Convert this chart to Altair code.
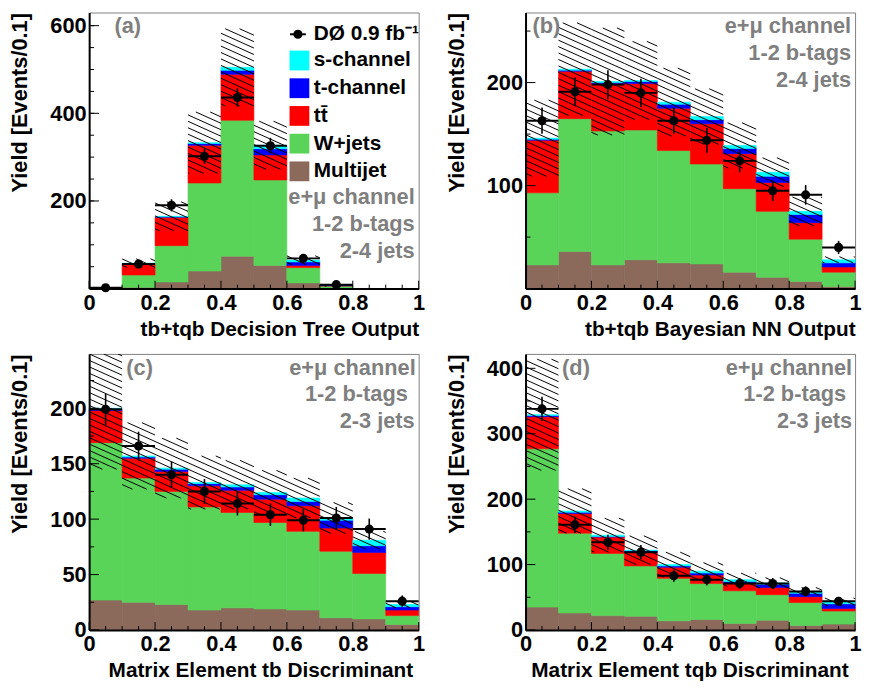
import math
import altair as alt
import pandas as pd

FONT = "Liberation Sans"
W, H = 333, 279

# ---------------- data ----------------
bin_edges = [0.0, 0.1, 0.2, 0.3, 0.4, 0.5, 0.6, 0.7, 0.8, 0.9, 1.0]
stack_order = ["Multijet", "W+jets", "tt\u0304", "t-channel", "s-channel"]
legend_order = ["s-channel", "t-channel", "tt\u0304", "W+jets", "Multijet"]
legend_colors = ["#00ffff", "#0000ff", "#ff0000", "#59d459", "#8b6a5b"]

# (a) Decision Tree
a_multijet = [0.5, 3, 15, 40, 74, 53, 13, 1, 0, 0]
a_wjets = [1, 28, 83, 201, 310, 195, 35, 5, 0, 0]
a_ttbar = [0.5, 25, 65, 86, 105, 57, 5, 0.5, 0, 0]
a_tchan = [0, 1, 1, 4, 9, 14, 8, 0.5, 0, 0]
a_schan = [0, 1, 1, 2, 7, 8, 4, 0, 0, 0]
a_data = [2, 56, 190, 302, 436, 326, 69, 9, 0, 0]
a_syst = [0.5, 10, 33, 70, 88, 55, 10, 2, 0, 0]

# (b) Bayesian NN
b_multijet = [23, 36, 23, 28, 25, 24, 16, 11, 7, 2]
b_wjets = [70, 129, 130, 126, 109, 97, 81, 64, 41, 14]
b_ttbar = [51, 46, 46, 45, 41, 39, 34, 28, 16, 5]
b_tchan = [1, 1, 1, 2, 4, 4, 5, 6, 8, 4]
b_schan = [1, 1, 1, 1, 2, 3, 3, 4, 3, 3]
b_data = [163, 191, 198, 190, 163, 144, 124, 95, 91, 40]
b_syst = [37, 45, 52, 38, 33, 27, 22, 14, 14, 3]

# (c) Matrix Element tb
c_multijet = [27, 25, 23, 18, 20, 19, 18, 11, 10, 5]
c_wjets = [142, 112, 102, 93, 86, 78, 71, 60, 41, 8]
c_ttbar = [29, 18, 18, 19, 20, 21, 23, 21, 19, 5]
c_tchan = [1, 1, 2, 2, 3, 4, 4, 7, 6, 3]
c_schan = [1, 1, 1, 1, 2, 2, 3, 2, 5, 2]
c_data = [199, 166, 140, 125, 114, 104, 99, 101, 91, 26]
c_syst = [55, 30, 27, 24, 22, 20, 18, 14, 8, 3]

# (d) Matrix Element tqb
d_multijet = [35, 26, 22, 21, 14, 16, 10, 15, 7, 9]
d_wjets = [242, 122, 95, 77, 65, 55, 50, 39, 35, 20]
d_ttbar = [49, 30, 25, 21, 17, 13, 11, 11, 9, 4]
d_tchan = [2, 2, 1, 2, 2, 3, 3, 5, 5, 7]
d_schan = [1, 2, 2, 1, 2, 3, 3, 2, 3, 3]
d_data = [338, 161, 134, 119, 83, 77, 71, 71, 59, 44]
d_syst = [85, 34, 26, 22, 19, 13, 10, 8, 6, 6]

x_major = [0, 0.2, 0.4, 0.6, 0.8, 1.0]
x_minor = [round(0.05 * i, 2) for i in range(1, 20) if i % 4 != 0]

GRAY = "#7f7f7f"


def text_layer(txt, px, py, align="left", color="black", size=22):
    return alt.Chart(pd.DataFrame({"t": [txt]})).mark_text(
        align=align, baseline="middle", font=FONT, fontSize=size,
        fontWeight="bold", color=color
    ).encode(text="t:N", x=alt.value(px), y=alt.value(py))


def hatch_df(total, err, ymax, slope=0.45, gap=6.5):
    rows = []
    for i in range(10):
        hi = min(total[i] + err[i], ymax)
        lo = max(total[i] - err[i], 0)
        if hi - lo <= 0:
            continue
        xa, xb = i * W / 10, (i + 1) * W / 10
        ya, yb = H * (1 - hi / ymax), H * (1 - lo / ymax)
        k0 = math.ceil((ya - slope * xb) / gap)
        k1 = math.floor((yb - slope * xa) / gap)
        for k in range(k0, k1 + 1):
            c = k * gap
            xs = max(xa, (ya - c) / slope)
            xe = min(xb, (yb - c) / slope)
            if xe - xs < 0.5:
                continue
            rows.append({
                "hx0": xs / W, "hx1": xe / W,
                "hy0": ymax * (1 - (c + slope * xs) / H),
                "hy1": ymax * (1 - (c + slope * xe) / H),
            })
    return pd.DataFrame(rows)


def panel(comps, data, syst, ymax, ylabels, yminor, xtitle, xtitle_x,
          tag, tag_x, info, info_x, info_y, legend=False):
    xs = alt.Scale(domain=[0, 1], nice=False, zero=False)
    ys = alt.Scale(domain=[0, ymax], nice=False, zero=False)

    rows = []
    totals = [0.0] * 10
    for name, vals in zip(stack_order, comps):
        for i in range(10):
            lo = totals[i]
            hi = lo + vals[i]
            totals[i] = hi
            if vals[i] > 0:
                rows.append({"x0": bin_edges[i], "x1": bin_edges[i + 1],
                             "y0": lo, "y1": hi, "comp": name})
    stack = pd.DataFrame(rows)

    xaxis = alt.Axis(
        values=x_major, format="~g", labelFlush=False, labelOverlap=False,
        ticks=False, grid=False, domainColor="black", domainWidth=2, zindex=1,
        labelFont=FONT, labelFontSize=22, labelFontWeight="bold",
        labelColor="black", labelPadding=4,
        title=xtitle, titleFont=FONT, titleFontSize=21, titleFontWeight="bold",
        titleColor="black", titleAlign="right", titleAnchor="end",
        titleX=xtitle_x, titleY=47, titleBaseline="alphabetic")
    yaxis = alt.Axis(
        values=ylabels, format="d", labelOverlap=False, ticks=False,
        grid=False, domainColor="black", domainWidth=2, zindex=1,
        labelFont=FONT, labelFontSize=22, labelFontWeight="bold",
        labelColor="black", labelPadding=3,
        title="Yield [Events/0.1]", titleFont=FONT, titleFontSize=22,
        titleFontWeight="bold", titleColor="black", titleX=-70, titleY=0,
        titleAngle=270, titleAlign="right", titleBaseline="middle")

    def X(f):
        return alt.X(f, scale=xs, axis=xaxis)

    def Y(f):
        return alt.Y(f, scale=ys, axis=yaxis)

    cscale = alt.Scale(domain=legend_order, range=legend_colors)
    if legend:
        leg = alt.Legend(orient="none", legendX=202, legendY=38, title=None,
                         symbolType="square", symbolSize=400,
                         symbolStrokeWidth=0, labelFont=FONT,
                         labelFontSize=21, labelFontWeight="bold",
                         labelColor="black", rowPadding=6, padding=0,
                         labelOffset=4, symbolOpacity=1)
    else:
        leg = None

    bars = alt.Chart(stack).mark_rect(strokeWidth=0.6).encode(
        x=X("x0:Q"), x2="x1:Q", y=Y("y0:Q"), y2="y1:Q",
        color=alt.Color("comp:N", scale=cscale, legend=leg),
        stroke=alt.Stroke("comp:N", scale=cscale, legend=None),
    )

    hd = hatch_df(totals, syst, ymax)
    hatch = alt.Chart(hd).mark_rule(color="black", strokeWidth=1,
                                    clip=True).encode(
        x=X("hx0:Q"), x2="hx1:Q", y=Y("hy0:Q"), y2="hy1:Q")

    # inner ticks (ROOT style)
    ymaj = alt.Chart(pd.DataFrame({"v": ylabels})).mark_rule(
        color="black", strokeWidth=1).encode(
        y=Y("v:Q"), x=alt.value(0), x2=alt.value(10))
    ymin = alt.Chart(pd.DataFrame({"v": yminor})).mark_rule(
        color="black", strokeWidth=1).encode(
        y=Y("v:Q"), x=alt.value(0), x2=alt.value(5))
    xmaj = alt.Chart(pd.DataFrame({"v": x_major})).mark_rule(
        color="black", strokeWidth=1).encode(
        x=X("v:Q"), y=alt.value(H), y2=alt.value(H - 8))
    xmin = alt.Chart(pd.DataFrame({"v": x_minor})).mark_rule(
        color="black", strokeWidth=1).encode(
        x=X("v:Q"), y=alt.value(H), y2=alt.value(H - 4))

    dd = pd.DataFrame({
        "x0": bin_edges[:-1], "x1": bin_edges[1:],
        "xc": [(bin_edges[i] + bin_edges[i + 1]) / 2 for i in range(10)],
        "n": data,
    })
    dd = dd[dd["n"] > 0].copy()
    dd["lo"] = dd["n"] - dd["n"] ** 0.5
    dd["hi"] = dd["n"] + dd["n"] ** 0.5
    vbar = alt.Chart(dd).mark_rule(color="black", strokeWidth=1.6).encode(
        x=X("xc:Q"), y=Y("lo:Q"), y2="hi:Q")
    hbar = alt.Chart(dd).mark_rule(color="black", strokeWidth=2).encode(
        x=X("x0:Q"), x2="x1:Q", y=Y("n:Q"))
    pts = alt.Chart(dd).mark_circle(color="black", opacity=1, size=85).encode(
        x=X("xc:Q"), y=Y("n:Q"))

    layers = [bars, hatch, ymaj, ymin, xmaj, xmin, vbar, hbar, pts,
              text_layer(tag, tag_x, 14, align="center", color=GRAY)]
    for t, px, py in zip(info, info_x, info_y):
        layers.append(text_layer(t, px, py, align="right", color=GRAY))

    if legend:
        leg_df = pd.DataFrame({"t": ["D\u00d8 0.9 fb\u207b\u00b9"]})
        layers.append(alt.Chart(leg_df).mark_rule(
            color="black", strokeWidth=2).encode(
            x=alt.value(203), x2=alt.value(219), y=alt.value(22)))
        layers.append(alt.Chart(leg_df).mark_circle(
            color="black", opacity=1, size=85).encode(
            x=alt.value(211), y=alt.value(22)))
        layers.append(text_layer("D\u00d8 0.9 fb\u207b\u00b9", 227, 22,
                                 size=21))

    return alt.layer(*layers).properties(width=W, height=H)


pa = panel([a_multijet, a_wjets, a_ttbar, a_tchan, a_schan], a_data, a_syst,
           630, [200, 400, 600], [50 * i for i in range(1, 13)],
           "tb+tqb Decision Tree Output", W, "(a)", 39,
           ["e+\u03bc channel", "1-2 b-tags", "2-4 jets"],
           [329, 329, 329], [187, 214, 241], legend=True)
pb = panel([b_multijet, b_wjets, b_ttbar, b_tchan, b_schan], b_data, b_syst,
           268, [100, 200], [50, 150, 250],
           "tb+tqb Bayesian NN Output", W, "(b)", 21,
           ["e+\u03bc channel", "1-2 b-tags", "2-4 jets"],
           [329, 329, 329], [14, 41, 68])
pc = panel([c_multijet, c_wjets, c_ttbar, c_tchan, c_schan], c_data, c_syst,
           249, [0, 50, 100, 150, 200], [25, 75, 125, 175, 225],
           "Matrix Element tb Discriminant", W - 6, "(c)", 51,
           ["e+\u03bc channel", "1-2 b-tags", "2-3 jets"],
           [330, 322, 329], [14, 41, 68])
pd_ = panel([d_multijet, d_wjets, d_ttbar, d_tchan, d_schan], d_data, d_syst,
            422, [0, 100, 200, 300, 400], [50, 150, 250, 350],
            "Matrix Element tqb Discriminant", W - 7, "(d)", 51,
            ["e+\u03bc channel", "1-2 b-tags", "2-3 jets"],
            [330, 324, 330], [14, 41, 68])

chart = alt.concat(
    pa, pb, pc, pd_, columns=2, spacing={"row": 66, "column": 108},
    bounds="flush"
).resolve_scale(
    x="independent", y="independent", color="independent", stroke="independent"
).properties(padding=0).configure_view(stroke="#808080", strokeWidth=1)

chart.save("out.html", embed_options={"renderer": "svg", "actions": False})
